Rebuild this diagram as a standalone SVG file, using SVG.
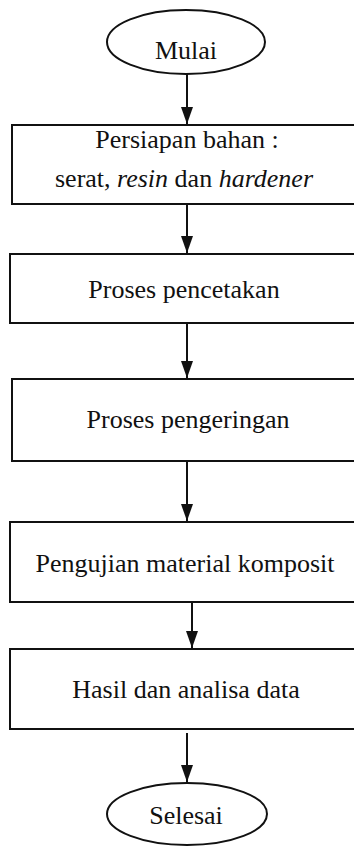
<svg xmlns="http://www.w3.org/2000/svg" width="354" height="846" viewBox="0 0 354 846">
  <style>
    .shape { fill: #ffffff; stroke: #111111; stroke-width: 2; }
    .label { font-family: 'Liberation Serif', 'DejaVu Serif', serif; font-size: 26px; fill: #111111; text-anchor: middle; }
    .conn { stroke: #111111; stroke-width: 2; fill: none; marker-end: url(#head); }
  </style>
  <defs>
    <!-- filled arrowhead; tip sits at the end point of the line -->
    <marker id="head" markerWidth="17" markerHeight="12" refX="17" refY="6" orient="auto" markerUnits="userSpaceOnUse" viewBox="0 0 17 12">
      <path d="M0,0 L17,6 L0,12 Z" fill="#111111"/>
    </marker>
  </defs>
  <rect width="354" height="846" fill="#ffffff"/>

  <g id="connectors">
    <line class="conn" x1="187" y1="74" x2="187" y2="124"/>
    <line class="conn" x1="187" y1="204" x2="187" y2="253"/>
    <line class="conn" x1="187" y1="323" x2="187" y2="378"/>
    <line class="conn" x1="187" y1="461" x2="187" y2="521"/>
    <line class="conn" x1="192" y1="602" x2="192" y2="648"/>
    <line class="conn" x1="187" y1="733" x2="187" y2="782"/>
  </g>

  <g id="start">
    <ellipse class="shape" cx="186" cy="42" rx="79" ry="32"/>
    <text class="label" x="186" y="59">Mulai</text>
  </g>

  <g id="preparation">
    <rect class="shape" x="12" y="125" width="350" height="79"/>
    <text class="label" x="187" y="148">Persiapan bahan :</text>
    <text class="label" x="184" y="187">serat, <tspan font-style="italic">resin</tspan> dan <tspan font-style="italic">hardener</tspan></text>
  </g>

  <g id="molding">
    <rect class="shape" x="10" y="254" width="352" height="69"/>
    <text class="label" x="184" y="298">Proses pencetakan</text>
  </g>

  <g id="drying">
    <rect class="shape" x="12" y="379" width="350" height="82"/>
    <text class="label" x="188" y="428">Proses pengeringan</text>
  </g>

  <g id="testing">
    <rect class="shape" x="10" y="522" width="352" height="80"/>
    <text class="label" x="185" y="572">Pengujian material komposit</text>
  </g>

  <g id="results">
    <rect class="shape" x="10" y="649" width="352" height="80"/>
    <text class="label" x="186" y="698">Hasil dan analisa data</text>
  </g>

  <g id="end">
    <ellipse class="shape" cx="187" cy="814" rx="80" ry="31"/>
    <text class="label" x="186" y="824">Selesai</text>
  </g>
</svg>
